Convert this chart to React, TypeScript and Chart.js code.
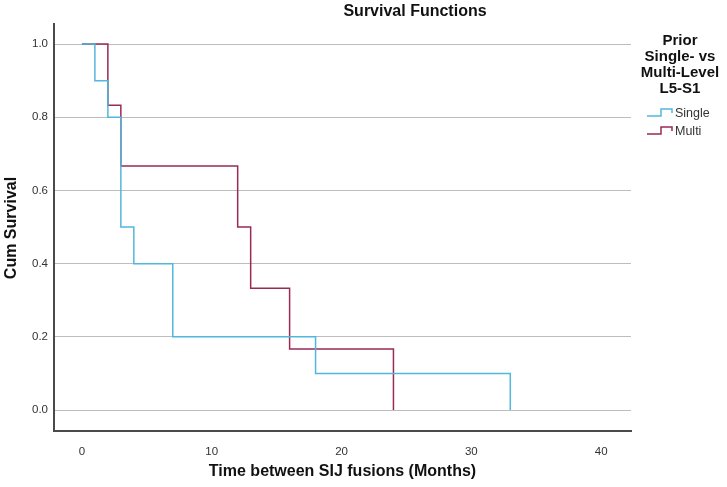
import React, { useEffect, useRef } from "react";
import { Chart, registerables } from "chart.js";

Chart.register(...registerables);

// Survival data (time in months, cumulative survival)
const singleTimes = [0, 1, 2, 3, 4, 7, 18, 33];
const singleSurvival = [1.0, 0.9, 0.8, 0.5, 0.4, 0.2, 0.1, 0.0];
const multiTimes = [0, 2, 3, 12, 13, 16, 24];
const multiSurvival = [1.0, 0.833, 0.667, 0.5, 0.333, 0.167, 0.0];

const seriesLabels = ["Single", "Multi"];
const seriesColors = ["#52b7de", "#982a55"];

const yTicks = [0.0, 0.2, 0.4, 0.6, 0.8, 1.0];
const xTicks = [0, 10, 20, 30, 40];

const chartTitle = "Survival Functions";
const xTitle = "Time between SIJ fusions (Months)";
const yTitle = "Cum Survival";
const legendTitle = ["Prior", "Single- vs", "Multi-Level", "L5-S1"];

const FONT = "'Liberation Sans', Arial, sans-serif";

const textPlugin = {
  id: "spssText",
  afterDraw(chart: any) {
    const ctx = chart.ctx;
    const area = chart.chartArea;
    ctx.save();
    ctx.fillStyle = "#111";
    ctx.textAlign = "center";
    ctx.textBaseline = "middle";
    // Title
    ctx.font = `bold 16px ${FONT}`;
    ctx.fillText(chartTitle, 415, 12);
    // X title
    ctx.font = `bold 16px ${FONT}`;
    ctx.fillText(xTitle, (area.left + area.right) / 2, 472);
    // Y title
    ctx.save();
    ctx.translate(12, 228);
    ctx.rotate(-Math.PI / 2);
    ctx.font = `bold 16px ${FONT}`;
    ctx.fillText(yTitle, 0, 0);
    ctx.restore();
    // Legend title
    ctx.font = `bold 15px ${FONT}`;
    legendTitle.forEach((t, i) => ctx.fillText(t, 680, 40.5 + i * 16.2));
    // Legend items
    ctx.font = `12.5px ${FONT}`;
    ctx.textAlign = "left";
    chart.data.datasets.forEach((ds: any, i: number) => {
      const y = 114 + i * 18;
      ctx.strokeStyle = ds.borderColor;
      ctx.lineWidth = 1.5;
      ctx.beginPath();
      ctx.moveTo(647, y + 2);
      ctx.lineTo(661, y + 2);
      ctx.lineTo(661, y - 5);
      ctx.lineTo(672, y - 5);
      ctx.lineTo(672, y - 1);
      ctx.stroke();
      ctx.fillStyle = "#333";
      ctx.fillText(ds.label, 675, y);
    });
    ctx.restore();
  },
};

export default function App() {
  const ref = useRef<HTMLCanvasElement>(null);
  useEffect(() => {
    if (!ref.current) return;
    const chart = new Chart(ref.current, {
      type: "line",
      data: {
        datasets: [
          {
            label: seriesLabels[0],
            data: singleTimes.map((t, i) => ({ x: t, y: singleSurvival[i] })),
            borderColor: seriesColors[0],
            borderWidth: 1.5,
            pointRadius: 0,
            stepped: "before",
            fill: false,
          },
          {
            label: seriesLabels[1],
            data: multiTimes.map((t, i) => ({ x: t, y: multiSurvival[i] })),
            borderColor: seriesColors[1],
            borderWidth: 1.5,
            pointRadius: 0,
            stepped: "before",
            fill: false,
          },
        ],
      },
      options: {
        responsive: false,
        animation: false,
        layout: { padding: { left: 0, top: 24, right: 96, bottom: 0 } },
        plugins: {
          legend: { display: false },
          title: { display: false },
          tooltip: { enabled: false },
        },
        scales: {
          x: {
            type: "linear",
            min: -2.15,
            max: 42.3,
            afterBuildTicks: (s: any) => {
              s.ticks = xTicks.map((v) => ({ value: v }));
            },
            afterFit: (s: any) => {
              s.height = 56;
            },
            grid: { display: false },
            border: { display: true, color: "#4a4a4a", width: 2 },
            ticks: {
              color: "#333",
              font: { family: FONT, size: 11.5 },
              padding: 6,
              maxRotation: 0,
              callback: (v: any) => String(v),
            },
          },
          y: {
            type: "linear",
            min: -0.0573,
            max: 1.055,
            afterBuildTicks: (s: any) => {
              s.ticks = yTicks.map((v) => ({ value: v }));
            },
            afterFit: (s: any) => {
              s.width = 54;
            },
            grid: { color: "#bdbdbd", lineWidth: 1, drawTicks: false },
            border: { display: true, color: "#4a4a4a", width: 2 },
            ticks: {
              color: "#333",
              font: { family: FONT, size: 11.5 },
              padding: 6,
              callback: (v: any) => Number(v).toFixed(1),
            },
          },
        },
      },
      plugins: [textPlugin],
    });
    return () => chart.destroy();
  }, []);
  return (
    <div style={{ position: "fixed", left: 0, top: 0, width: 727, height: 487, background: "#fff" }}>
      <canvas ref={ref} width={727} height={487} style={{ width: 727, height: 487 }} />
    </div>
  );
}
